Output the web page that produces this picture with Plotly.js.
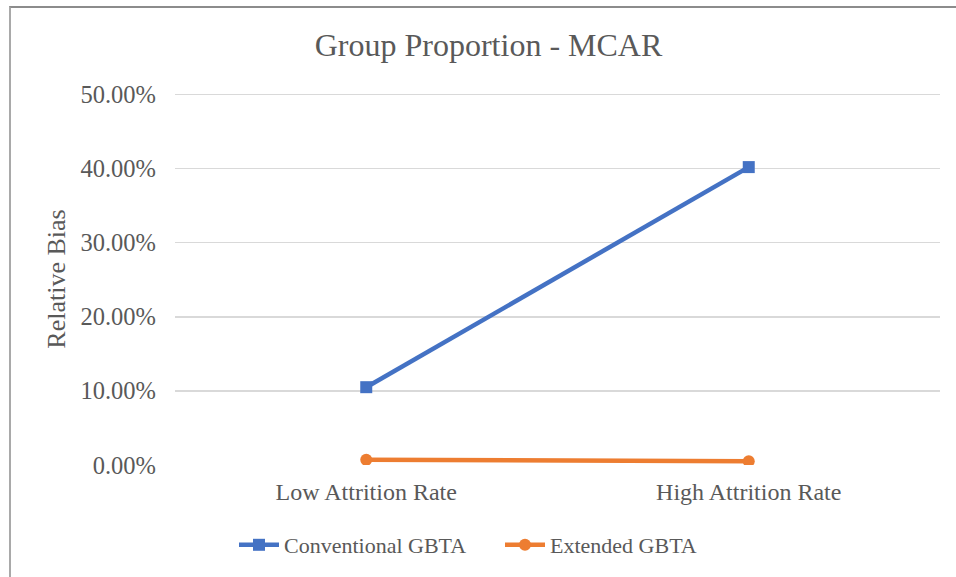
<!DOCTYPE html>
<html>
<head>
<meta charset="utf-8">
<script src="https://cdn.plot.ly/plotly-3.0.1.min.js"></script>
<style>
  html, body { margin: 0; padding: 0; background: #fff; }
  #wrap { position: relative; width: 956px; height: 577px; overflow: hidden; }
  #chart { width: 956px; height: 577px; }
  #frame {
    position: absolute; left: 9px; top: 6px; width: 1000px; height: 700px;
    border-left: 2px solid #a9a9a9; border-top: 2px solid #8c8c8c;
    pointer-events: none;
  }
</style>
</head>
<body>
<div id="wrap">
  <div id="chart"></div>
  <div id="frame"></div>
</div>
<script>
// Attrition scenarios on the category axis
const categories = ['Low Attrition Rate', 'High Attrition Rate'];
// Relative bias (as fractions) for each estimator
const conventionalGBTA = [0.105, 0.402];
const extendedGBTA = [0.007, 0.005];
const seriesNames = ['Conventional GBTA', 'Extended GBTA'];

const textColor = '#595959';
const serif = 'Liberation Serif';

const traces = [
  {
    x: categories, y: conventionalGBTA, name: seriesNames[0],
    type: 'scatter', mode: 'lines+markers',
    line: { color: '#4472C4', width: 4.5 },
    marker: { symbol: 'square', size: 12, color: '#4472C4' }
  },
  {
    x: categories, y: extendedGBTA, name: seriesNames[1],
    type: 'scatter', mode: 'lines+markers',
    line: { color: '#ED7D31', width: 4.5 },
    marker: { symbol: 'circle', size: 12, color: '#ED7D31' }
  }
];

const layout = {
  width: 956, height: 577,
  paper_bgcolor: '#fff', plot_bgcolor: '#fff',
  margin: { l: 175, r: 16, t: 92.5, b: 112 },
  font: { family: serif, color: textColor, size: 22 },
  title: {
    text: 'Group Proportion - MCAR',
    font: { family: serif, size: 32, color: textColor },
    x: 0.511, xanchor: 'center', xref: 'container',
    y: 1 - 45 / 577, yanchor: 'middle', yref: 'container'
  },
  xaxis: {
    type: 'category', range: [-0.5, 1.5],
    showgrid: false, zeroline: false, showline: false, ticks: '',
    tickfont: { family: serif, size: 24, color: textColor },
    ticklabelstandoff: 10, fixedrange: true
  },
  yaxis: {
    range: [0, 0.502], dtick: 0.1, tick0: 0, tickformat: '.2%',
    showgrid: true, gridcolor: '#d9d9d9', gridwidth: 1.5,
    zeroline: false, showline: false, ticks: '',
    tickfont: { family: serif, size: 24.5, color: textColor },
    ticklabelstandoff: 18,
    title: { text: 'Relative Bias', font: { family: serif, size: 26, color: textColor }, standoff: 7 },
    fixedrange: true
  },
  showlegend: true,
  legend: {
    orientation: 'h', xref: 'container', yref: 'container',
    x: 234 / 956, xanchor: 'left', y: 1 - 545 / 577, yanchor: 'middle',
    font: { family: serif, size: 22, color: textColor },
    entrywidth: 211, entrywidthmode: 'pixels',
    itemwidth: 40, traceorder: 'normal'
  }
};

Plotly.newPlot('chart', traces, layout, { staticPlot: true, displayModeBar: false });
</script>
</body>
</html>
